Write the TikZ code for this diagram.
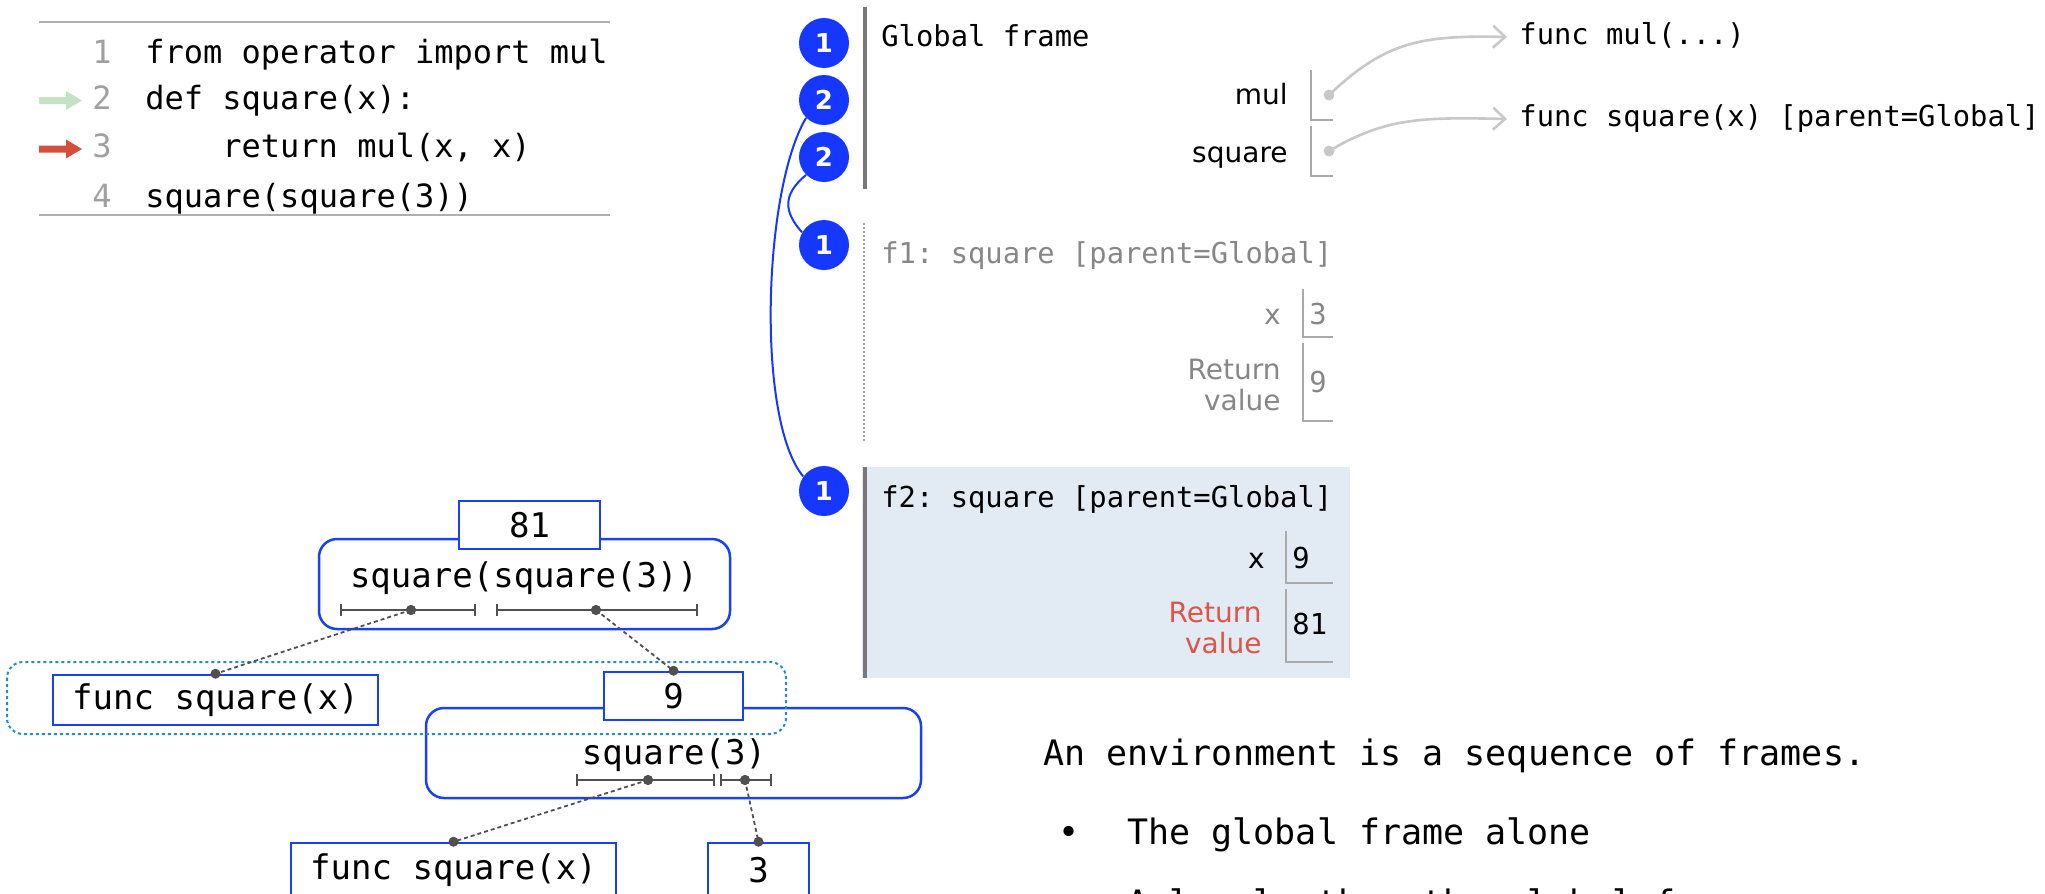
\documentclass[tikz,border=0pt]{standalone}
\usepackage{fontspec}
\setmainfont{DejaVu Sans}
\setsansfont{DejaVu Sans}
\setmonofont{DejaVu Sans Mono}
\usetikzlibrary{arrows.meta}
\definecolor{cblue}{RGB}{22,55,255}
\definecolor{boxblue}{RGB}{25,65,240}
\definecolor{dotblue}{RGB}{30,140,210}
\definecolor{barcol}{RGB}{120,120,120}
\definecolor{fbg}{RGB}{226,234,244}
\definecolor{gtext}{RGB}{135,135,135}
\definecolor{rtext}{RGB}{220,85,70}
\definecolor{ptrgray}{RGB}{200,200,200}
\definecolor{boxgray}{RGB}{170,170,170}
\definecolor{dkgray}{RGB}{80,80,80}
\definecolor{codegreen}{RGB}{197,226,197}
\definecolor{codered}{RGB}{212,80,60}
\definecolor{rulegray}{RGB}{175,175,175}
\definecolor{lnumgray}{RGB}{160,160,160}
\begin{document}
\begin{tikzpicture}[x=0.5pt,y=-0.5pt,
  codetxt/.style={font=\fontsize{16}{19}\selectfont\ttfamily, anchor=west, inner sep=0, text height=12pt, text depth=4pt},
  lnum/.style={font=\fontsize{16}{19}\selectfont\ttfamily, text=lnumgray, inner sep=0, text height=12pt, text depth=4pt},
  ftitle/.style={font=\fontsize{14.4}{17}\selectfont\ttfamily, anchor=west, inner sep=0, text height=10.8pt, text depth=3.6pt},
  varlab/.style={font=\fontsize{14}{15.5}\selectfont\sffamily, anchor=east, inner sep=0, text height=10.5pt, text depth=3.5pt},
  retlab/.style={font=\fontsize{14}{15.5}\selectfont\sffamily, anchor=east, inner sep=0, align=right},
  valtxt/.style={font=\fontsize{14.4}{17}\selectfont\ttfamily, anchor=west, inner sep=0, text height=10.8pt, text depth=3.6pt},
  circ/.style={circle, fill=cblue, minimum size=25pt, inner sep=0, text=white, font=\fontsize{13}{13}\selectfont\sffamily\bfseries},
  tbox/.style={draw=boxblue, line width=1.25pt, fill=white, inner sep=0, font=\fontsize{17}{20}\selectfont\ttfamily},
  rbox/.style={draw=boxblue, line width=1.25pt, rounded corners=9pt, inner sep=0},
  ttxt/.style={font=\fontsize{17}{20}\selectfont\ttfamily, inner sep=0, text height=12.8pt, text depth=4.2pt},
  brk/.style={draw=dkgray, line width=1pt, {Bar[width=6pt]}-{Bar[width=6pt]}},
  conn/.style={draw=dkgray, line width=0.9pt, dash pattern=on 2pt off 1.5pt},
  dotn/.style={circle, fill=dkgray, inner sep=0, minimum size=5pt},
  pdot/.style={circle, fill=ptrgray, inner sep=0, minimum size=5.5pt},
  ptr/.style={draw=ptrgray, line width=1.3pt, -{Straight Barb[length=6pt,width=11pt]}},
  frbox/.style={draw=boxgray, line width=1pt},
  bluecurve/.style={draw=cblue, line width=1pt},
  rtxt/.style={font=\fontsize{17.5}{21}\selectfont\ttfamily, anchor=west, inner sep=0, text height=13pt, text depth=4.5pt}
]
\useasboundingbox (0,0) rectangle (2045,894);
\clip (0,0) rectangle (2045,894);

% ---------- code panel ----------
\draw[rulegray, line width=1pt] (39,22) -- (610,22);
\draw[rulegray, line width=1pt] (39,215) -- (610,215);
\node[lnum] (ln1) at (102,55) {1};
\node[lnum] (ln2) at (102,101) {2};
\node[lnum] (ln3) at (102,149.5) {3};
\node[lnum] (ln4) at (102,199) {4};
\node[codetxt] (cl1) at (145,55) {from operator import mul};
\node[codetxt] (cl2) at (145,101) {def square(x):};
\node[codetxt] (cl3) at (222,149.5) {return mul(x, x)};
\node[codetxt] (cl4) at (145,199) {square(square(3))};
\fill[codegreen] (39,97) -- (66,97) -- (66,91) -- (82,100.5) -- (66,110) -- (66,104) -- (39,104) -- cycle;
\fill[codered] (39,145.5) -- (66,145.5) -- (66,139.5) -- (82,149) -- (66,158.5) -- (66,152.5) -- (39,152.5) -- cycle;

% ---------- frames ----------
\fill[fbg] (862,467) rectangle (1350,678);
\draw[barcol, line width=2pt] (865,7) -- (865,189);
\draw[boxgray, line width=1pt, dash pattern=on 1pt off 1pt] (864,223) -- (864,443);
\draw[barcol, line width=2pt] (865,467) -- (865,678);

\node[circ] (k1) at (824,43) {1};
\node[circ] (k2) at (824,100) {2};
\node[circ] (k3) at (824,157) {2};
\node[circ] (k4) at (824,245) {1};
\node[circ] (k5) at (824,491) {1};
\draw[bluecurve] (k2.225) .. controls (763,190) and (756,420) .. (k5.145);
\draw[bluecurve] (k3.225) .. controls (782,195) and (784,212) .. (k4.150);

% global frame
\node[ftitle] (gft) at (881,39) {Global frame};
\node[varlab] (lmul) at (1288,97) {mul};
\node[varlab] (lsq) at (1288,155) {square};
\draw[frbox] (1311,70) -- (1311,120) -- (1333,120);
\draw[frbox] (1311,126) -- (1311,176) -- (1333,176);
\node[pdot] (pd1) at (1329,95) {};
\node[pdot] (pd2) at (1329,151) {};
\node[ftitle] (fmul) at (1519,37) {func mul(...)};
\node[ftitle] (fsqg) at (1519,119) {func square(x) [parent=Global]};
\draw[ptr] (pd1.center) .. controls (1385,42) and (1420,35) .. ([xshift=-6pt]fmul.west);
\draw[ptr] (pd2.center) .. controls (1385,118) and (1420,117) .. ([xshift=-6pt]fsqg.west);

% f1
\node[ftitle, text=gtext] (f1t) at (881,256) {f1: square [parent=Global]};
\node[varlab, text=gtext] (f1x) at (1281,317) {x};
\draw[frbox] (1303,289) -- (1303,337) -- (1333,337);
\node[valtxt, text=gtext] (f1xv) at (1309,317) {3};
\node[retlab, text=gtext] (f1r) at (1281,385) {Return\\value};
\draw[frbox] (1303,343) -- (1303,421) -- (1333,421);
\node[valtxt, text=gtext] (f1rv) at (1309,385) {9};

% f2
\node[ftitle] (f2t) at (881,500) {f2: square [parent=Global]};
\node[varlab] (f2x) at (1265,561) {x};
\draw[frbox] (1286,531) -- (1286,583) -- (1333,583);
\node[valtxt] (f2xv) at (1292,561) {9};
\node[retlab, text=rtext] (f2r) at (1262,628) {Return\\value};
\draw[frbox] (1286,589) -- (1286,662) -- (1333,662);
\node[valtxt] (f2rv) at (1292,627) {81};

% ---------- expression tree ----------
\node[rbox, minimum width=205.5pt, minimum height=45pt] (ssq) at (524.5,584) {};
\node[tbox, minimum width=70.5pt, minimum height=24pt] (n81) at (529.5,525) {81};
\node[ttxt] (ssqt) at (524,579) {square(square(3))};
\coordinate (b1a) at (340,610); \coordinate (b1b) at (476,610);
\coordinate (b2a) at (496,610); \coordinate (b2b) at (698,610);
\draw[brk] (b1a) -- (b1b);
\draw[brk] (b2a) -- (b2b);
\node[dotn] (d1) at (411,610) {};
\node[dotn] (d2) at (596,610) {};

\node[rbox, minimum width=247.5pt, minimum height=45pt] (sq3) at (673.5,753) {};
\node[tbox, minimum width=162.5pt, minimum height=25pt] (fsq1) at (215.5,700) {\raisebox{-2pt}{func square(x)}};
\node[tbox, minimum width=69.5pt, minimum height=24pt] (n9) at (673.5,696) {9};
\node[ttxt] (sq3t) at (674,756) {square(3)};
\coordinate (b3a) at (576,780); \coordinate (b3b) at (715,780);
\coordinate (b4a) at (720,780); \coordinate (b4b) at (772,780);
\draw[brk] (b3a) -- (b3b);
\draw[brk] (b4a) -- (b4b);
\node[dotn] (d3) at (648,780) {};
\node[dotn] (d4) at (745,780) {};

\node[tbox, minimum width=162.5pt, minimum height=27pt] (fsq2) at (453.5,870) {\raisebox{-2pt}{func square(x)}};
\node[tbox, minimum width=50.5pt, minimum height=27pt] (n3) at (758.5,870) {3};

\draw[draw=dotblue, line width=1pt, dash pattern=on 1.5pt off 1.5pt, rounded corners=8pt] (7,662) rectangle (786,734);

\draw[conn] (d1.center) -- (fsq1.north);
\draw[conn] (d2.center) -- (n9.north);
\draw[conn] (d3.center) -- (fsq2.north);
\draw[conn] (d4.center) -- (n3.north);
\node[dotn] at (d1) {};
\node[dotn] at (d2) {};
\node[dotn] at (d3) {};
\node[dotn] at (d4) {};
\node[dotn] (e1) at (fsq1.north) {};
\node[dotn] (e2) at (n9.north) {};
\node[dotn] (e3) at (fsq2.north) {};
\node[dotn] (e4) at (n3.north) {};

% ---------- text ----------
\node[rtxt] (t1) at (1043,757) {An environment is a sequence of frames.};
\node[rtxt, anchor=center] (bul1) at (1069,836) {•};
\node[rtxt] (t2) at (1127,836) {The global frame alone};
\node[rtxt] (t3) at (1127,907) {A local, then the global frame};
\end{tikzpicture}
\end{document}
